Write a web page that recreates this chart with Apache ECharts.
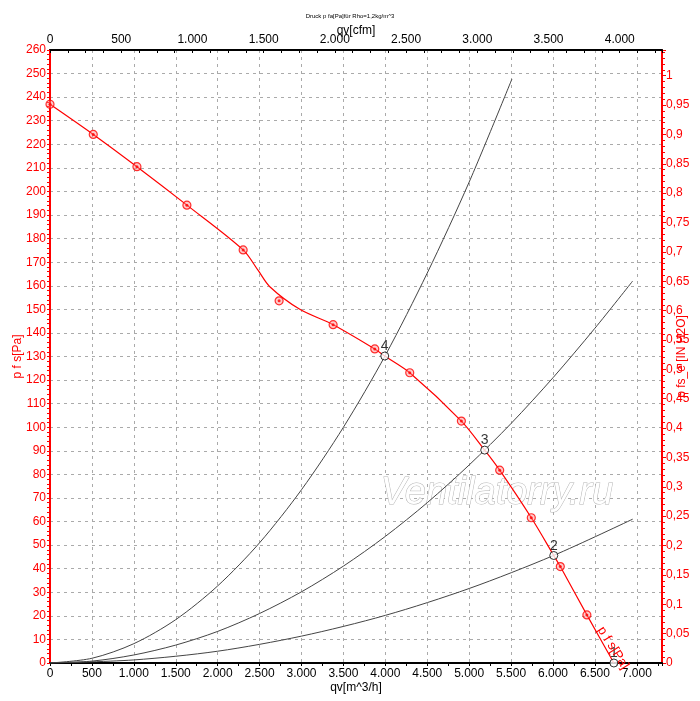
<!DOCTYPE html>
<html>
<head>
<meta charset="utf-8">
<script src="https://cdn.jsdelivr.net/npm/echarts@6/dist/echarts.min.js"></script>
<style>
html,body{margin:0;padding:0;background:#fff;}
#chart{width:700px;height:701px;}
</style>
</head>
<body>
<div id="chart"></div>
<script>
// Fan curve measured markers (qv m^3/h, p Pa)
const fanQ = [0, 516, 1037, 1633, 2304, 2733, 3377, 3874, 4291, 4907, 5364, 5741, 6087, 6404];
const fanP = [237, 224.2, 210.5, 194.2, 175.2, 153.6, 143.5, 133.2, 123.1, 102.6, 81.8, 61.6, 40.9, 20.4];
// Fan line path as drawn (passes through operating points)
const fanLineQ = [0, 516, 1037, 1633, 2304, 2483, 2622, 2980, 3377, 3874, 3993, 4291, 4907, 5185, 5364, 5741, 6009, 6087, 6404, 6726];
const fanLineP = [237, 224.2, 210.5, 194.2, 175.2, 166.5, 159.6, 150, 143.5, 133.2, 130.2, 123.1, 102.6, 90.3, 81.8, 61.6, 45.6, 40.9, 20.4, 0];
// Operating points
const opQ = [6726, 6009, 5185, 3993];
const opP = [0, 45.6, 90.3, 130.2];
const opLabels = ['1', '2', '3', '4'];
// System curves
const sysAQ = [0, 500, 1000, 1500, 2000, 2500, 3000, 3500, 4000, 4500, 5000, 5510];
const sysAP = [0, 2, 8.2, 18.4, 32.7, 51, 73.5, 100, 130.5, 165.4, 204, 247.7];
const sysBQ = [0, 500, 1000, 1500, 2000, 2500, 3000, 3500, 4000, 4500, 5000, 5500, 6000, 6500, 6950];
const sysBP = [0, 0.8, 3.4, 7.6, 13.4, 21, 30.2, 41.1, 53.7, 68, 84, 101.6, 121, 142, 162];
const sysCQ = [0, 1000, 2000, 3000, 4000, 5000, 6000, 6950];
const sysCP = [0, 1.3, 5, 11.4, 20.2, 31.6, 45.5, 61];

const PA_PER_INH2O = 249.09;
const CFM_TO_M3H = 1.699;
const X_MAX = 7300;
const Y_MAX = 260;

const pair = (xs, ys) => xs.map((x, i) => [x, ys[i]]);

const thousands = v => {
  v = Math.round(v);
  if (v >= 1000) return Math.floor(v / 1000) + '.' + String(v % 1000).padStart(3, '0');
  return String(v);
};
const comma = v => String(+(+v).toFixed(2)).replace('.', ',');

const RED = '#ff0000';
const FONT = 'Liberation Sans, Arial, sans-serif';

const chart = echarts.init(document.getElementById('chart'), null, {renderer: 'canvas'});
chart.setOption({
  animation: false,
  backgroundColor: '#fff',
  title: {
    text: 'Druck p fa[Pa]für Rho=1,2kg/m^3',
    left: 'center', top: 8,
    textStyle: {fontSize: 6, fontWeight: 'normal', color: '#000', fontFamily: FONT}
  },
  grid: {left: 50, right: 38, top: 50, bottom: 38, containLabel: false, outerBoundsMode: 'none'},
  xAxis: [
    {
      type: 'value', position: 'bottom', min: 0, max: X_MAX, interval: 500,
      name: 'qv[m^3/h]', nameLocation: 'middle', nameGap: 19, nameMoveOverlap: false,
      nameTextStyle: {color: '#000', fontSize: 12, fontFamily: FONT},
      axisLine: {onZero: false, lineStyle: {color: '#000', width: 2}},
      axisTick: {show: true, length: 3, lineStyle: {color: '#000'}},
      minorTick: {show: true, splitNumber: 2, length: 3, lineStyle: {color: '#000'}},
      axisLabel: {color: '#000', fontSize: 12, margin: 5, fontFamily: FONT, showMaxLabel: false, formatter: thousands},
      splitLine: {show: true, lineStyle: {color: '#aaa', type: [3, 4], width: 1}}
    },
    {
      type: 'value', position: 'top', min: 0, max: X_MAX / CFM_TO_M3H, interval: 500,
      name: 'qv[cfm]', nameLocation: 'middle', nameGap: 13, nameMoveOverlap: false,
      nameTextStyle: {color: '#000', fontSize: 12, fontFamily: FONT},
      axisLine: {onZero: false, lineStyle: {color: '#000', width: 2}},
      axisTick: {show: true, inside: true, length: 3, lineStyle: {color: '#000'}},
      minorTick: {show: true, splitNumber: 4, length: 3, lineStyle: {color: '#000'}},
      axisLabel: {color: '#000', fontSize: 12, margin: 4, fontFamily: FONT, showMaxLabel: false, formatter: thousands},
      splitLine: {show: false}
    }
  ],
  yAxis: [
    {
      type: 'value', position: 'left', min: 0, max: Y_MAX, interval: 10,
      name: 'p f s[Pa]', nameLocation: 'middle', nameGap: 26, nameMoveOverlap: false,
      nameTextStyle: {color: RED, fontSize: 12, fontFamily: FONT},
      axisLine: {onZero: false, lineStyle: {color: RED, width: 2}},
      axisTick: {show: true, length: 3, lineStyle: {color: RED}},
      minorTick: {show: true, splitNumber: 5, length: 3, lineStyle: {color: RED}},
      axisLabel: {color: RED, fontSize: 12, margin: 4, fontFamily: FONT},
      splitLine: {show: true, lineStyle: {color: '#aaa', type: [3, 4], width: 1}}
    },
    {
      type: 'value', position: 'right', min: 0, max: Y_MAX / PA_PER_INH2O, interval: 0.05,
      name: 'p fs_e [IN H2O]', nameLocation: 'middle', nameGap: 14, nameRotate: 90, nameMoveOverlap: false,
      nameTextStyle: {color: RED, fontSize: 12, fontFamily: FONT},
      axisLine: {onZero: false, lineStyle: {color: RED, width: 2}},
      axisTick: {show: true, length: 4, lineStyle: {color: RED}},
      minorTick: {show: true, splitNumber: 5, length: 3, lineStyle: {color: RED}},
      axisLabel: {color: RED, fontSize: 12, margin: 4, fontFamily: FONT, showMaxLabel: false, formatter: comma},
      splitLine: {show: false}
    }
  ],
  graphic: [
    {
      type: 'text', x: 497, y: 493, z: 1,
      style: {
        text: 'Ventilatorry.ru', font: 'italic 38px ' + FONT,
        fill: '#ffffff', stroke: '#b4b4b4', lineWidth: 1,
        textAlign: 'center', textVerticalAlign: 'middle',
        shadowColor: 'rgba(0,0,0,0.3)', shadowBlur: 2, shadowOffsetX: 2, shadowOffsetY: 2
      }
    },
    {
      type: 'text', x: 613, y: 648, z: 10, rotation: -1.01,
      style: {
        text: 'p f s[Pa]', font: '13px ' + FONT, fill: RED,
        textAlign: 'center', textVerticalAlign: 'middle'
      }
    }
  ],
  series: [
    {
      type: 'line', data: pair(sysAQ, sysAP), smooth: 0.3, showSymbol: false, z: 3,
      lineStyle: {color: '#444', width: 1}
    },
    {
      type: 'line', data: pair(sysBQ, sysBP), smooth: 0.3, showSymbol: false, z: 3,
      lineStyle: {color: '#444', width: 1}
    },
    {
      type: 'line', data: pair(sysCQ, sysCP), smooth: 0.3, showSymbol: false, z: 3,
      lineStyle: {color: '#444', width: 1}
    },
    {
      type: 'line', data: pair(fanLineQ, fanLineP), smooth: 0.3, showSymbol: false, z: 4,
      lineStyle: {color: RED, width: 1.2}
    },
    {
      type: 'scatter', data: pair(fanQ, fanP), symbol: 'circle', symbolSize: 8, z: 5,
      itemStyle: {color: 'rgba(255,140,140,0.55)', borderColor: RED, borderWidth: 1.2}
    },
    {
      type: 'scatter', data: pair(fanQ, fanP), symbol: 'circle', symbolSize: 3, z: 6,
      itemStyle: {color: RED}
    },
    {
      type: 'scatter', z: 7,
      data: opQ.map((q, i) => ({value: [q, opP[i]], name: opLabels[i]})),
      symbol: 'circle', symbolSize: 8,
      itemStyle: {color: '#fff', borderColor: '#000', borderWidth: 1},
      label: {show: true, position: 'top', distance: -2, formatter: p => p.name, color: '#000', fontSize: 14, fontFamily: FONT}
    }
  ]
});
</script>
</body>
</html>
